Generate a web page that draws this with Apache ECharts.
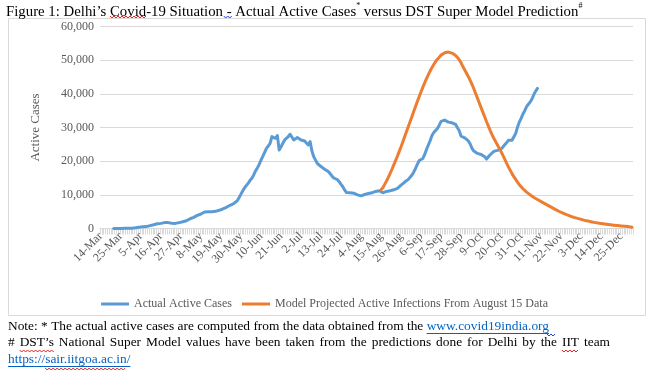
<!DOCTYPE html>
<html><head><meta charset="utf-8">
<script src="https://cdn.jsdelivr.net/npm/echarts@6/dist/echarts.min.js"></script>
<style>html,body{margin:0;padding:0;background:#fff}#c{width:649px;height:372px}</style>
</head><body><div id="c"></div>
<script>
// ---- data ----
const startDate = '2020-03-14';
const endDate = '2020-12-31';
const actualStartIndex = 7;   // 21-Mar
const modelStartIndex = 154;  // 15-Aug
const yTicks = [0, 10000, 20000, 30000, 40000, 50000, 60000];
const actualCases = [
  20,25,27,29,30,36,39,45,60,80,100,
  130,200,280,400,480,500,540,560,650,850,900,
  1100,1300,1400,1500,1520,1600,1750,1800,1750,1600,1550,
  1500,1520,1600,1750,1900,2000,2100,2300,
  2600,2900,3100,3300,3600,3900,4100,4300,4600,4900,
  5000,5000,5000,4950,5000,5100,5300,5400,5600,5800,
  6000,6300,6600,6900,7100,7400,7800,8300,
  9200,10200,11200,12100,12800,13500,14300,14900,15900,17100,18000,19000,20300,21400,22600,23800,24500,25300,27300,27200,26800,27600,
  23300,24300,24100,26300,26800,27300,28000,28400,26300,26700,27000,26700,26300,26200,26000,25800,24800,25800,
  23000,21300,20300,19300,18900,18400,18000,17600,17200,16900,16300,15600,15000,14800,14500,13900,13100,12400,11400,10700,
  10600,10600,10500,10500,10300,10000,9800,9700,9900,10100,10300,10400,10200,10600,10900,11000,11100,11200,
  10900,10600,10800,11000,11100,11200,11300,11500,11700,11900,12400,12900,13400,13800,14200,14600,15000,
  15900,16800,17900,19100,20200,20500,20800,22000,23500,24800,26100,27600,28500,28900,29700,30700,31800,32100,32200,32100,
  31600,31200,31400,31200,30900,30400,29000,27400,27000,26900,26700,26000,25100,23800,23000,22600,22300,22200,22000,21800,21300,20600,
  21300,21900,22300,22900,23100,23200,23300,23600,24200,24900,25500,26200,26400,26200,26100,28200,30100,31600,32700,34000,35000,36200,36900,37600,38500,39800,40800,41600
];
const modelProjection = [
  11500,12100,13100,14100,15200,16400,17600,18900,20200,21500,
  22900,24300,25800,27300,28800,30300,31800,33300,34800,36300,
  37800,39200,40600,42000,43300,44500,45700,46800,47800,48700,
  49600,50300,50900,51500,51900,52200,52300,52400,
  52300,52100,51800,51400,50800,50100,49200,48100,47100,46100,
  45100,44000,42800,41500,40100,38700,37300,35900,34500,33100,
  31700,30400,29100,27900,26800,25800,24800,23800,22800,21700,
  20600,19400,18300,17300,16300,15400,14600,13800,13000,12400,
  11800,11300,10800,10400,10000,9600,9200,8900,
  8600,8300,8000,7700,7400,7100,6800,6500,6200,5900,
  5600,5300,5050,4800,4550,4300,4100,3900,3700,3500,
  3300,3150,3000,2850,2700,2550,2400,2300,2200,2050,
  1950,1850,1750,1650,1550,1450,1380,1300,1230,1160,
  1100,1040,980,920,870,820,770,720,670,620,560,480,400
];
const seriesNames = ['Actual Active Cases', 'Model Projected Active Infections From August 15 Data'];
const titleParts = ['Figure 1: Delhi\u2019s Covid-19 Situation - Actual Active Cases', '*', ' versus DST Super Model Prediction', '#'];
const note1 = 'Note: * The actual active cases are computed from the data obtained from the ';
const note1Link = 'www.covid19india.org';
const note2 = '# DST\u2019s National Super Model values have been taken from the predictions done for Delhi by the IIT team';
const note3Link = 'https://sair.iitgoa.ac.in/';

// ---- build ----
const MONTHS = ['Jan','Feb','Mar','Apr','May','Jun','Jul','Aug','Sep','Oct','Nov','Dec'];
const categories = [];
for (let t = Date.parse(startDate + 'T00:00:00Z'); t <= Date.parse(endDate + 'T00:00:00Z'); t += 86400000) {
  const d = new Date(t);
  categories.push(d.getUTCDate() + '-' + MONTHS[d.getUTCMonth()]);
}
function place(arr, start) {
  const out = new Array(categories.length).fill(null);
  arr.forEach((v, i) => { out[start + i] = v; });
  return out;
}
const FONT = '"Liberation Serif", "Times New Roman", serif';
const ctx = document.createElement('canvas').getContext('2d');
function tw(text, size) { ctx.font = size + 'px "Liberation Serif"'; return ctx.measureText(text).width; }

function squiggle(x1, x2, y, color) {
  const pts = [];
  let up = true;
  for (let x = x1; x <= x2; x += 2) { pts.push([x, up ? y : y + 2]); up = !up; }
  return { type: 'polyline', silent: true, shape: { points: pts }, style: { stroke: color, lineWidth: 1, fill: null } };
}

const graphics = [];
// frame
graphics.push({ type: 'rect', silent: true, shape: { x: 8.5, y: 18.5, width: 637, height: 297 }, style: { fill: null, stroke: '#d9d9d9', lineWidth: 1 } });
// title
const TS = 14.8, TX = 6, TY = 2;
graphics.push({ type: 'text', left: TX, top: TY, silent: true, style: {
  text: '{a|' + titleParts[0] + '}{s|' + titleParts[1] + '}{a|' + titleParts[2] + '}{s|' + titleParts[3] + '}',
  rich: { a: { fontFamily: FONT, fontSize: TS, fill: '#000', verticalAlign: 'bottom', lineHeight: 18 },
          s: { fontFamily: FONT, fontSize: 8, fill: '#000', verticalAlign: 'top', lineHeight: 18 } } } });
// title squiggles
{
  const pre = 'Figure 1: Delhi\u2019s ';
  const x1 = TX + tw(pre, TS), x2 = x1 + tw('Covid', TS);
  graphics.push(squiggle(x1, x2, 16, '#e02020'));
  const pre2 = 'Figure 1: Delhi\u2019s Covid-19 Situation ';
  const bx = TX + tw(pre2, TS);
  graphics.push(squiggle(bx - 3, bx + tw('-', TS) + 1, 16, '#2040e0'));
}
// notes
const NS = 13.4, NX = 8;
const N1Y = 320, N2Y = 336, N3Y = 353;
graphics.push({ type: 'text', left: NX, top: N1Y, silent: true, style: { text: note1, fontFamily: FONT, fontSize: NS, fill: '#000' } });
{
  const lx = NX + tw(note1, NS), lw = tw(note1Link, NS);
  graphics.push({ type: 'text', left: lx, top: N1Y, silent: true, style: { text: note1Link, fontFamily: FONT, fontSize: NS, fill: '#0563c1' } });
  graphics.push({ type: 'line', silent: true, shape: { x1: lx, y1: N1Y + 13.5, x2: lx + lw, y2: N1Y + 13.5 }, style: { stroke: '#0563c1', lineWidth: 1 } });
  graphics.push(squiggle(lx + lw - 2, lx + lw + 6, N1Y + 14, '#2040e0'));
}
{
  const words = note2.split(' ');
  const target = 602;
  const wsum = words.reduce((s, w) => s + tw(w, NS), 0);
  const gap = (target - wsum) / (words.length - 1);
  let x = NX;
  words.forEach(w => {
    graphics.push({ type: 'text', left: x, top: N2Y, silent: true, style: { text: w, fontFamily: FONT, fontSize: NS, fill: '#000' } });
    if (w === 'DST\u2019s' || w === 'IIT') graphics.push(squiggle(x, x + tw(w, NS), N2Y + 14, '#e02020'));
    x += tw(w, NS) + gap;
  });
}
{
  const lw = tw(note3Link, NS);
  graphics.push({ type: 'text', left: NX, top: N3Y, silent: true, style: { text: note3Link, fontFamily: FONT, fontSize: NS, fill: '#0563c1' } });
  graphics.push({ type: 'line', silent: true, shape: { x1: NX, y1: N3Y + 13.5, x2: NX + lw, y2: N3Y + 13.5 }, style: { stroke: '#0563c1', lineWidth: 1 } });
  const sx = NX + tw('https://', NS);
  graphics.push(squiggle(sx, NX + lw - 4, N3Y + 15, '#e02020'));
}

const chart = echarts.init(document.getElementById('c'), null, { renderer: 'canvas' });
chart.setOption({
  animation: false,
  backgroundColor: '#fff',
  textStyle: { fontFamily: FONT },
  grid: { left: 100, right: 16, top: 26.5, bottom: 143.5, containLabel: false },
  legend: {
    top: 293, left: 'center', itemGap: 10, itemWidth: 28, itemHeight: 3, icon: 'rect',
    textStyle: { fontFamily: FONT, fontSize: 12, color: '#595959' },
    data: seriesNames
  },
  xAxis: {
    type: 'category', data: categories, boundaryGap: true,
    axisLine: { lineStyle: { color: '#d9d9d9', width: 1 } },
    axisTick: { show: true, interval: 0, length: 6, lineStyle: { color: '#d9d9d9' } },
    axisLabel: { interval: 10, rotate: 45, fontFamily: FONT, fontSize: 12, color: '#595959', margin: 6 }
  },
  yAxis: {
    type: 'value', min: yTicks[0], max: yTicks[yTicks.length - 1], interval: yTicks[1] - yTicks[0],
    name: 'Active Cases', nameLocation: 'middle', nameGap: 58, nameRotate: 90,
    nameTextStyle: { fontFamily: FONT, fontSize: 13, color: '#595959' },
    axisLine: { show: false }, axisTick: { show: false },
    splitLine: { lineStyle: { color: '#d9d9d9', width: 1 } },
    axisLabel: { fontFamily: FONT, fontSize: 12, color: '#595959', margin: 6,
      formatter: v => v.toLocaleString('en-US') }
  },
  series: [
    { name: seriesNames[0], type: 'line', data: place(actualCases, actualStartIndex), showSymbol: false, symbol: 'none',
      lineStyle: { color: '#5b9bd5', width: 3, join: 'round', cap: 'round' }, itemStyle: { color: '#5b9bd5' } },
    { name: seriesNames[1], type: 'line', data: place(modelProjection, modelStartIndex), showSymbol: false, symbol: 'none',
      lineStyle: { color: '#ed7d31', width: 3, join: 'round', cap: 'round' }, itemStyle: { color: '#ed7d31' } }
  ],
  graphic: graphics
});
</script></body></html>
